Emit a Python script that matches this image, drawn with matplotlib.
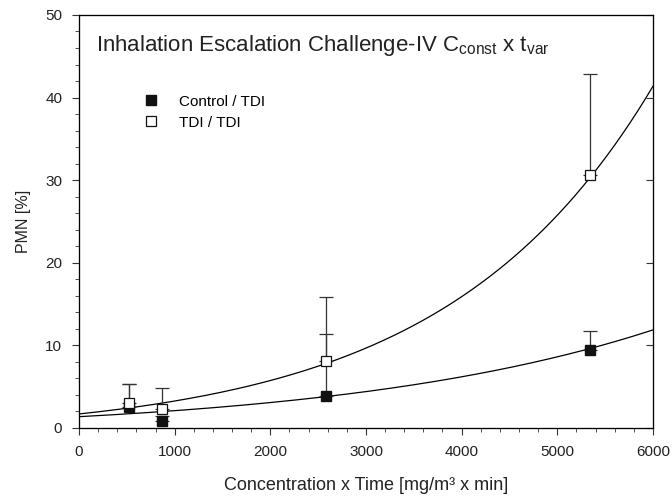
import numpy as np
import matplotlib
matplotlib.use("Agg")
import matplotlib.pyplot as plt
from matplotlib.ticker import MultipleLocator

plt.rcParams['font.family'] = ['Liberation Sans', 'DejaVu Sans']

# data
dose = [520, 870, 2580, 5340]
control_mean = [2.6, 0.8, 3.9, 9.5]
control_err = [2.7, 0.6, 7.5, 2.3]
tdi_mean = [3.0, 2.3, 8.1, 30.6]
tdi_err = [2.3, 2.6, 7.8, 12.2]

# exponential fits y = c + a*exp(b*x), parameters estimated from the curves
control_fit = (-0.71, 2.08, 3.0e-4)
tdi_fit = (-0.98, 2.68, 4.6e-4)

fig = plt.figure(figsize=(6.72, 4.96), dpi=100)
ax = fig.add_axes([0.1176, 0.1371, 0.854, 0.8327])

xs = np.linspace(0, 6000, 300)
for c, a, b in (control_fit, tdi_fit):
    ax.plot(xs, c + a * np.exp(b * xs), color='black', lw=0.9, zorder=2)

ax.errorbar(dose, control_mean, yerr=[np.zeros(4), control_err], fmt='none',
            ecolor='#333333', elinewidth=0.9, capsize=5, capthick=0.9, zorder=3)
ax.errorbar(dose, tdi_mean, yerr=[np.zeros(4), tdi_err], fmt='none',
            ecolor='#333333', elinewidth=0.9, capsize=5, capthick=0.9, zorder=3)

ax.plot(dose, control_mean, 's', ms=7, mfc='#111111', mec='#111111',
        ls='none', label='Control / TDI', zorder=4)
ax.plot(dose, tdi_mean, 's', ms=7, mfc='white', mec='#111111', mew=0.9,
        ls='none', label='TDI / TDI', zorder=4)

ax.set_xlim(0, 6000)
ax.set_ylim(0, 50)
ax.xaxis.set_major_locator(MultipleLocator(1000))
ax.xaxis.set_minor_locator(MultipleLocator(200))
ax.yaxis.set_major_locator(MultipleLocator(10))
ax.yaxis.set_minor_locator(MultipleLocator(2))
ax.tick_params(which='both', direction='out', top=False, right=False,
               labelsize=11, color='#333333', labelcolor='#222222')
ax.tick_params(which='major', length=5)
ax.tick_params(which='minor', length=3)
ax.tick_params(axis='x', pad=7)
ax.tick_params(axis='y', pad=7)
for s in ax.spines.values():
    s.set_linewidth(0.9)
    s.set_color('#333333')

ax2 = ax.twinx()
ax2.set_ylim(0, 50)
ax2.yaxis.set_major_locator(MultipleLocator(10))
ax2.tick_params(direction='in', length=5, labelright=False, color='#333333')

ax.set_xlabel('Concentration x Time [mg/m³ x min]', fontsize=13, labelpad=13,
              color='#222222')
ax.set_ylabel('PMN [%]', fontsize=11.5, labelpad=10, color='#222222')

ax.text(0.03, 0.925, r'Inhalation Escalation Challenge-IV C$_{\mathregular{const}}$ x t$_{\mathregular{var}}$',
        transform=ax.transAxes, fontsize=16, va='center', color='#222222')

ax.legend(loc='upper left', bbox_to_anchor=(0.075, 0.84), frameon=False,
          fontsize=11, handletextpad=0.8, labelspacing=0.45, numpoints=1)

fig.savefig('out.png', dpi=100)
